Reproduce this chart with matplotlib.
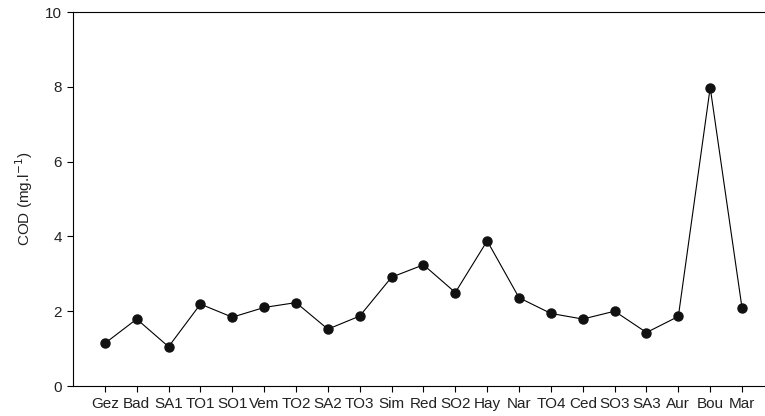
import matplotlib
matplotlib.use("Agg")
import matplotlib.pyplot as plt

sites = ["Gez", "Bad", "SA1", "TO1", "SO1", "Vem", "TO2", "SA2", "TO3", "Sim", "Red",
         "SO2", "Hay", "Nar", "TO4", "Ced", "SO3", "SA3", "Aur", "Bou", "Mar"]
cod = [1.14, 1.79, 1.05, 2.19, 1.84, 2.10, 2.23, 1.52, 1.87, 2.91, 3.24,
       2.50, 3.88, 2.36, 1.94, 1.79, 2.00, 1.43, 1.86, 7.98, 2.08]
yticks = [0, 2, 4, 6, 8, 10]

plt.rcParams['font.family'] = ['Liberation Sans', 'DejaVu Sans']

fig = plt.figure(figsize=(7.65, 4.16), dpi=100)
ax = fig.add_axes([73/765, 1-386/416, 1-73/765, (386-12)/416])
x = list(range(len(sites)))
ax.plot(x, cod, color='black', linewidth=0.8, marker='o', markersize=6.5,
        markerfacecolor='#111111', markeredgecolor='#111111')
ax.set_xlim(-1, 20.72)
ax.set_ylim(0, 10)
ax.set_xticks(x)
ax.set_xticklabels(sites, fontsize=11)
ax.set_yticks(yticks)
ax.set_yticklabels([str(v) for v in yticks], fontsize=11)
ax.tick_params(direction='out', length=4, width=0.8, color='black', pad=4, labelcolor='#222222')
ax.spines['right'].set_visible(False)
for s in ['left', 'top', 'bottom']:
    ax.spines[s].set_linewidth(0.8)
ax.set_ylabel('COD (mg.l$^{-1}$)', fontsize=11, labelpad=7, color='#222222')
fig.savefig('out.png', dpi=100)
